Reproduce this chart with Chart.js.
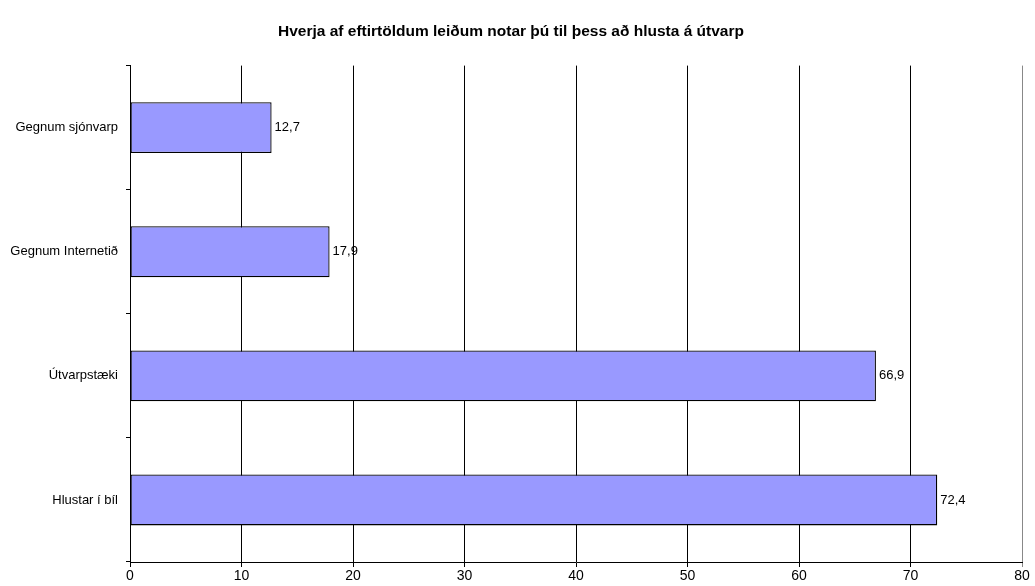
<!DOCTYPE html>
<html>
<head>
<meta charset="utf-8">
<script src="https://cdn.jsdelivr.net/npm/chart.js@4/dist/chart.umd.min.js"></script>
<style>
  html, body { margin: 0; padding: 0; background: #fff; }
  #wrap { width: 1035px; height: 586px; }
</style>
</head>
<body>
<div id="wrap"><canvas id="chart"></canvas></div>
<script>
const categories = ['Gegnum sjónvarp', 'Gegnum Internetið', 'Útvarpstæki', 'Hlustar í bíl'];
const values = [12.7, 17.9, 66.9, 72.4];
const titleText = 'Hverja af eftirtöldum leiðum notar þú til þess að hlusta á útvarp';

const FONT = '"Liberation Sans Narrow", "Liberation Sans", Arial, sans-serif';

// draws the value next to the end of each bar, with a decimal comma
const valueLabels = {
  id: 'valueLabels',
  afterDatasetsDraw(c) {
    const ctx = c.ctx;
    const meta = c.getDatasetMeta(0);
    ctx.save();
    ctx.font = '13px ' + FONT;
    ctx.fillStyle = '#000';
    ctx.textBaseline = 'middle';
    ctx.textAlign = 'left';
    meta.data.forEach((bar, i) => {
      const txt = values[i].toFixed(1).replace('.', ',');
      ctx.fillText(txt, bar.x + 3, bar.y);
    });
    ctx.restore();
  }
};

const chart = new Chart(document.getElementById('chart'), {
  type: 'bar',
  data: {
    labels: categories,
    datasets: [{
      data: values,
      backgroundColor: '#9999ff',
      borderColor: '#000',
      borderWidth: 1.3,
      borderSkipped: false,
      barPercentage: 0.41,
      categoryPercentage: 1,
    }],
  },
  options: {
    indexAxis: 'y',
    responsive: true,
    maintainAspectRatio: false,
    animation: false,
    layout: {
      padding: { top: 0, bottom: 0, left: 0, right: 13 },
    },
    scales: {
      x: {
        min: 0,
        max: 80,
        ticks: {
          stepSize: 10,
          color: '#000',
          font: { family: FONT, size: 14 },
          padding: 1,
        },
        grid: {
          color: (ctx) => ctx.tick && ctx.tick.value === 80 ? '#888' : '#000',
          lineWidth: 1,
          tickLength: 5,
        },
        border: { display: true, color: '#000' },
        afterFit(scale) { scale.height = 24; },
      },
      y: {
        ticks: {
          color: '#000',
          font: { family: FONT, size: 13 },
          padding: 8,
        },
        grid: {
          offset: true,
          drawOnChartArea: false,
          color: '#000',
          tickLength: 4,
        },
        border: { display: true, color: '#000' },
        afterFit(scale) { scale.width = 130; },
      },
    },
    plugins: {
      legend: { display: false },
      tooltip: { enabled: false },
      title: {
        display: true,
        text: titleText,
        color: '#000',
        font: { family: FONT, size: 15.5, weight: 'bold' },
        padding: { top: 22, bottom: 25 },
      },
    },
  },
  plugins: [valueLabels],
});
</script>
</body>
</html>
